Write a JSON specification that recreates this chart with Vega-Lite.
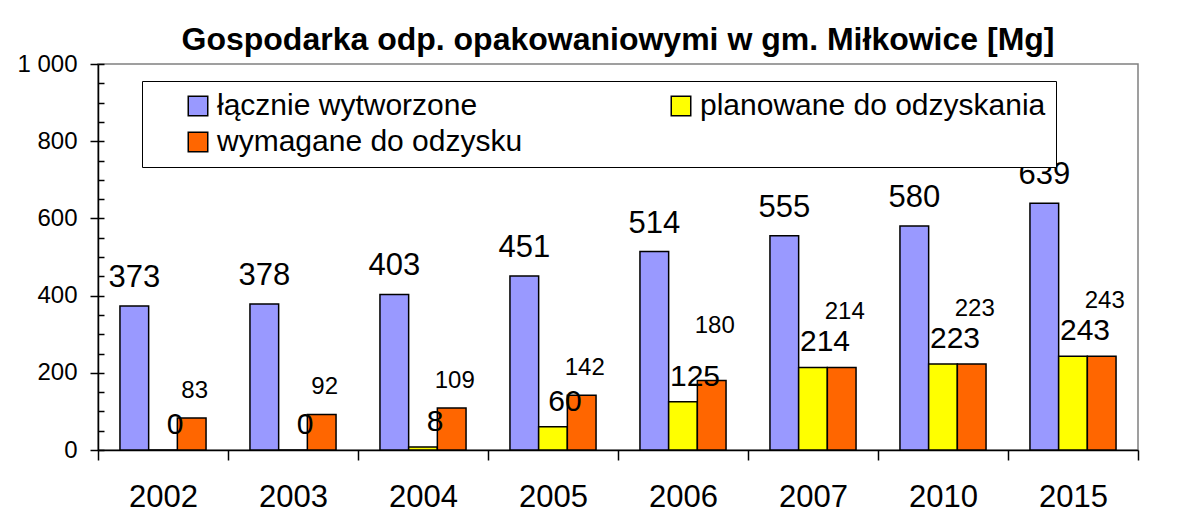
{
  "$schema": "https://vega.github.io/schema/vega-lite/v6.json",
  "width": 1040,
  "height": 386,
  "autosize": {"type": "none"},
  "padding": {"left": 98, "top": 64, "right": 51, "bottom": 68},
  "background": "white",
  "title": {
    "text": "Gospodarka odp. opakowaniowymi w gm. Miłkowice [Mg]",
    "font": "Liberation Sans",
    "fontSize": 32,
    "fontWeight": "bold",
    "color": "black",
    "anchor": "middle",
    "baseline": "alphabetic",
    "frame": "group",
    "offset": -30
  },
  "data": {
    "values": [
      {"rok": "2002", "łącznie wytworzone": 373, "planowane do odzyskania": 0, "wymagane do odzysku": 83},
      {"rok": "2003", "łącznie wytworzone": 378, "planowane do odzyskania": 0, "wymagane do odzysku": 92},
      {"rok": "2004", "łącznie wytworzone": 403, "planowane do odzyskania": 8, "wymagane do odzysku": 109},
      {"rok": "2005", "łącznie wytworzone": 451, "planowane do odzyskania": 60, "wymagane do odzysku": 142},
      {"rok": "2006", "łącznie wytworzone": 514, "planowane do odzyskania": 125, "wymagane do odzysku": 180},
      {"rok": "2007", "łącznie wytworzone": 555, "planowane do odzyskania": 214, "wymagane do odzysku": 214},
      {"rok": "2010", "łącznie wytworzone": 580, "planowane do odzyskania": 223, "wymagane do odzysku": 223},
      {"rok": "2015", "łącznie wytworzone": 639, "planowane do odzyskania": 243, "wymagane do odzysku": 243}
    ]
  },
  "transform": [
    {"fold": ["łącznie wytworzone", "planowane do odzyskania", "wymagane do odzysku"], "as": ["seria", "wartosc"]}
  ],
  "encoding": {
    "x": {
      "field": "rok",
      "type": "nominal",
      "sort": null,
      "scale": {"domain": ["2002", "2003", "2004", "2005", "2006", "2007", "2010", "2015"], "paddingInner": 0, "paddingOuter": 0}
    },
    "xOffset": {
      "field": "seria",
      "type": "nominal",
      "scale": {"domain": ["łącznie wytworzone", "planowane do odzyskania", "wymagane do odzysku"], "paddingInner": 0, "paddingOuter": 0.765}
    },
    "y": {
      "field": "wartosc",
      "type": "quantitative",
      "scale": {"domain": [0, 1000], "nice": false, "zero": true}
    }
  },
  "layer": [
    {
      "mark": {"type": "bar", "stroke": "black", "strokeWidth": 1.5},
      "encoding": {
        "y": {
          "field": "wartosc",
          "type": "quantitative",
          "scale": {"domain": [0, 1000], "nice": false, "zero": true},
          "axis": {
            "values": [0, 200, 400, 600, 800, 1000],
            "labelExpr": "datum.value == 1000 ? '1 000' : datum.label",
            "title": null,
            "grid": false,
            "orient": "left",
            "tickSize": 8,
            "tickColor": "black",
            "tickWidth": 1.5,
            "domainColor": "black",
            "domainWidth": 1.5,
            "labelFontSize": 24,
            "labelColor": "black",
            "labelPadding": 13
          }
        },
        "color": {
          "field": "seria",
          "type": "nominal",
          "scale": {
            "domain": ["łącznie wytworzone", "planowane do odzyskania", "wymagane do odzysku"],
            "range": ["#9999FF", "#FFFF00", "#FF6600"]
          },
          "legend": {
            "orient": "none",
            "legendX": 44,
            "legendY": 17,
            "columns": 2,
            "direction": "horizontal",
            "title": null,
            "symbolType": "square",
            "symbolSize": 380,
            "symbolStrokeColor": "black",
            "symbolStrokeWidth": 1.5,
            "symbolOpacity": 1,
            "labelFontSize": 30,
            "labelColor": "black",
            "labelLimit": 0,
            "padding": 10,
            "strokeColor": "black",
            "fillColor": "white",
            "columnPadding": 112,
            "rowPadding": 6,
            "symbolOffset": 31,
            "labelOffset": 4
          }
        }
      }
    },
    {
      "transform": [{"filter": "datum.seria == 'łącznie wytworzone'"}],
      "mark": {"type": "text", "baseline": "alphabetic", "dy": -19, "fontSize": 31, "color": "black"},
      "encoding": {
        "text": {"field": "wartosc", "type": "quantitative"},
        "y": {
          "field": "wartosc",
          "type": "quantitative",
          "scale": {"domain": [0, 1000], "nice": false, "zero": true},
          "axis": {
            "values": [0, 50, 100, 150, 200, 250, 300, 350, 400, 450, 500, 550, 600, 650, 700, 750, 800, 850, 900, 950, 1000],
            "orient": "left",
            "labels": false,
            "domain": false,
            "grid": false,
            "title": null,
            "tickSize": -6,
            "tickColor": "black",
            "tickWidth": 1.5
          }
        }
      }
    },
    {
      "transform": [{"filter": "datum.seria == 'planowane do odzyskania'"}],
      "mark": {"type": "text", "baseline": "alphabetic", "dx": 12, "dy": -16, "fontSize": 30, "color": "black"},
      "encoding": {
        "text": {"field": "wartosc", "type": "quantitative"},
        "y": {"field": "wartosc", "type": "quantitative", "scale": {"domain": [0, 1000], "nice": false, "zero": true}, "axis": null}
      }
    },
    {
      "transform": [{"filter": "datum.seria == 'wymagane do odzysku' && datum['planowane do odzyskania'] <= 100"}],
      "mark": {"type": "text", "baseline": "alphabetic", "dx": 3, "dy": -20, "fontSize": 24, "color": "black"},
      "encoding": {
        "text": {"field": "wartosc", "type": "quantitative"},
        "y": {"field": "wartosc", "type": "quantitative", "scale": {"domain": [0, 1000], "nice": false, "zero": true}, "axis": null}
      }
    },
    {
      "transform": [{"filter": "datum.seria == 'wymagane do odzysku' && datum['planowane do odzyskania'] > 100"}],
      "mark": {"type": "text", "baseline": "alphabetic", "dx": 3, "dy": -48, "fontSize": 24, "color": "black"},
      "encoding": {
        "text": {"field": "wartosc", "type": "quantitative"},
        "y": {"field": "wartosc", "type": "quantitative", "scale": {"domain": [0, 1000], "nice": false, "zero": true}, "axis": null}
      }
    }
  ],
  "resolve": {"axis": {"y": "independent"}},
  "config": {
    "font": "Liberation Sans",
    "view": {"stroke": "#808080", "strokeWidth": 1.5},
    "axisX": {
      "title": null,
      "grid": false,
      "labelAngle": 0,
      "tickBand": "extent",
      "tickSize": 10,
      "tickColor": "black",
      "tickWidth": 1.5,
      "domainColor": "black",
      "domainWidth": 1.5,
      "labelFontSize": 31,
      "labelColor": "black",
      "labelPadding": 22
    }
  }
}
